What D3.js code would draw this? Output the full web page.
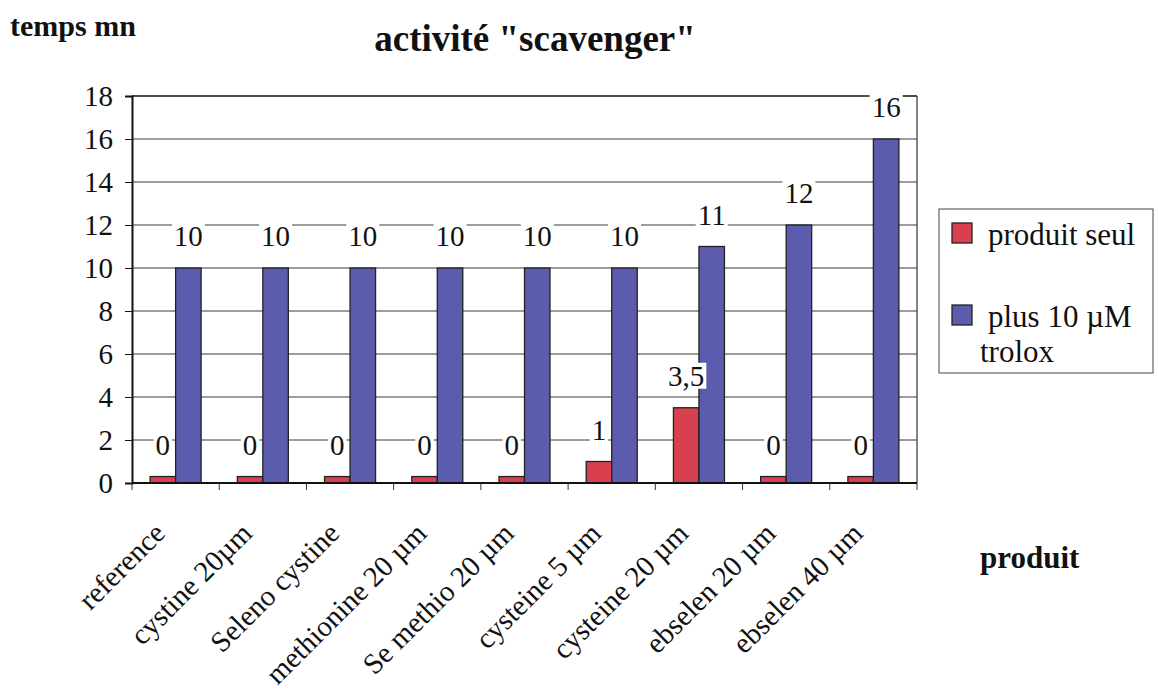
<!DOCTYPE html>
<html>
<head>
<meta charset="utf-8">
<script src="https://cdnjs.cloudflare.com/ajax/libs/d3/7.8.5/d3.min.js"></script>
<style>
body { margin: 0; background: #fff; }
svg { display: block; }
text { font-family: "Liberation Serif", "Times New Roman", serif; fill: #111; }
</style>
</head>
<body>
<svg id="chart" width="1158" height="699"></svg>
<script>
var categories = ["reference", "cystine 20µm", "Seleno cystine", "methionine 20 µm",
	"Se methio 20 µm", "cysteine 5 µm", "cysteine 20 µm", "ebselen 20 µm", "ebselen 40 µm"];
var seriesNames = ["produit seul", "plus 10 µM trolox"];
// red bars for "0" are drawn with a small visible height in the original
var produitSeul = [0.3, 0.3, 0.3, 0.3, 0.3, 1, 3.5, 0.3, 0.3];
var produitSeulLabels = ["0", "0", "0", "0", "0", "1", "3,5", "0", "0"];
var plusTrolox = [10, 10, 10, 10, 10, 10, 11, 12, 16];
var plusTroloxLabels = ["10", "10", "10", "10", "10", "10", "11", "12", "16"];
var yTicks = [0, 2, 4, 6, 8, 10, 12, 14, 16, 18];

var COLORS = ["#d8404f", "#5b5cae"];
var PLOT = {left: 132, right: 917, top: 96, bottom: 483};

var svg = d3.select("#chart");

var x = d3.scaleBand().domain(categories).range([PLOT.left, PLOT.right]);
var xs = d3.scaleBand().domain(seriesNames).range([0, x.bandwidth()]).paddingOuter(0.71);
var y = d3.scaleLinear().domain([0, 18]).range([PLOT.bottom, PLOT.top]);

// titles
svg.append("text").text("temps mn")
	.attr("x", 10).attr("y", 36)
	.style("font-size", "30px").style("font-weight", "bold");

svg.append("text").text("activité \"scavenger\"")
	.attr("x", 535).attr("y", 51).attr("text-anchor", "middle")
	.style("font-size", "37px").style("font-weight", "bold");

svg.append("text").text("produit")
	.attr("x", 980).attr("y", 568)
	.style("font-size", "31px").style("font-weight", "bold");

// grid
svg.append("g").selectAll("line")
	.data(yTicks.filter(function(t) { return t > 0; }))
	.enter().append("line")
	.attr("x1", PLOT.left).attr("x2", PLOT.right)
	.attr("y1", function(d) { return y(d); })
	.attr("y2", function(d) { return y(d); })
	.attr("stroke", function(d) { return d === 18 ? "#111" : "#3a3a3a"; })
	.attr("stroke-width", function(d) { return d === 18 ? 1.6 : 1; });

// right border
svg.append("line")
	.attr("x1", PLOT.right).attr("x2", PLOT.right)
	.attr("y1", PLOT.top).attr("y2", PLOT.bottom)
	.attr("stroke", "#333").attr("stroke-width", 1.2);

// y axis
var yAxis = d3.axisLeft(y).tickValues(yTicks).tickSize(7).tickPadding(12).tickFormat(d3.format("d"));
var yG = svg.append("g").attr("transform", "translate(" + PLOT.left + ",0)").call(yAxis);
yG.attr("font-family", null);
yG.select(".domain").attr("stroke", "#111").attr("stroke-width", 2);
yG.selectAll(".tick line").attr("stroke", "#111");
yG.selectAll(".tick text")
	.style("font-size", "29px").attr("fill", "#111");

// bars
var groups = svg.append("g").selectAll("g")
	.data(categories)
	.enter().append("g")
	.attr("transform", function(d) { return "translate(" + x(d) + ",0)"; });

groups.each(function(cat, i) {
	var g = d3.select(this);
	var vals = [produitSeul[i], plusTrolox[i]];
	seriesNames.forEach(function(s, k) {
		g.append("rect")
			.attr("x", xs(s))
			.attr("y", y(vals[k]))
			.attr("width", xs.bandwidth())
			.attr("height", y(0) - y(vals[k]))
			.attr("fill", COLORS[k])
			.attr("stroke", "#222")
			.attr("stroke-width", 1.3);
	});
});

// x axis
var xAxisG = svg.append("g").attr("transform", "translate(0," + PLOT.bottom + ")");
xAxisG.append("line")
	.attr("x1", PLOT.left).attr("x2", PLOT.right)
	.attr("stroke", "#111").attr("stroke-width", 2);
xAxisG.selectAll("line.tick")
	.data(categories.concat(["end"]))
	.enter().append("line")
	.attr("class", "tick")
	.attr("x1", function(d, i) { return PLOT.left + i * x.step(); })
	.attr("x2", function(d, i) { return PLOT.left + i * x.step(); })
	.attr("y1", 0).attr("y2", 7)
	.attr("stroke", "#333");

xAxisG.selectAll("text")
	.data(categories)
	.enter().append("text")
	.text(function(d) { return d; })
	.attr("text-anchor", "end")
	.attr("transform", function(d) {
		return "translate(" + (x(d) + x.bandwidth() / 2 - 9) + ",52) rotate(-45)";
	})
	.style("font-size", "29px");

// data labels with white background
function addLabels(values, labels, s) {
	var lg = svg.append("g");
	categories.forEach(function(cat, i) {
		var cx = x(cat) + xs(s) + xs.bandwidth() / 2;
		var cy = y(values[i]) - 32;
		var t = lg.append("text").text(labels[i])
			.attr("x", cx).attr("y", cy)
			.attr("text-anchor", "middle")
			.attr("dominant-baseline", "central")
			.style("font-size", "29px");
		var bb = t.node().getBBox();
		lg.insert("rect", "text")
			.attr("x", bb.x - 2).attr("y", bb.y + 3)
			.attr("width", bb.width + 4).attr("height", bb.height - 6)
			.attr("fill", "#fff");
	});
}
addLabels(produitSeul, produitSeulLabels, seriesNames[0]);
addLabels(plusTrolox, plusTroloxLabels, seriesNames[1]);

// legend
var legend = svg.append("g").attr("transform", "translate(939,209)");
legend.append("rect")
	.attr("width", 214).attr("height", 164)
	.attr("fill", "#fff").attr("stroke", "#444").attr("stroke-width", 1);

var legendRows = [
	{lines: ["produit seul"], y: 36},
	{lines: ["plus 10 µM", "trolox"], y: 118}
];
legendRows.forEach(function(row, k) {
	legend.append("rect")
		.attr("x", 13).attr("y", row.y - 22)
		.attr("width", 20).attr("height", 20)
		.attr("fill", COLORS[k]).attr("stroke", "#222").attr("stroke-width", 1.3);
	row.lines.forEach(function(line, j) {
		legend.append("text").text(line)
			.attr("x", j === 0 ? 49 : 41)
			.attr("y", row.y + j * 35)
			.style("font-size", "31px");
	});
});
</script>
</body>
</html>
